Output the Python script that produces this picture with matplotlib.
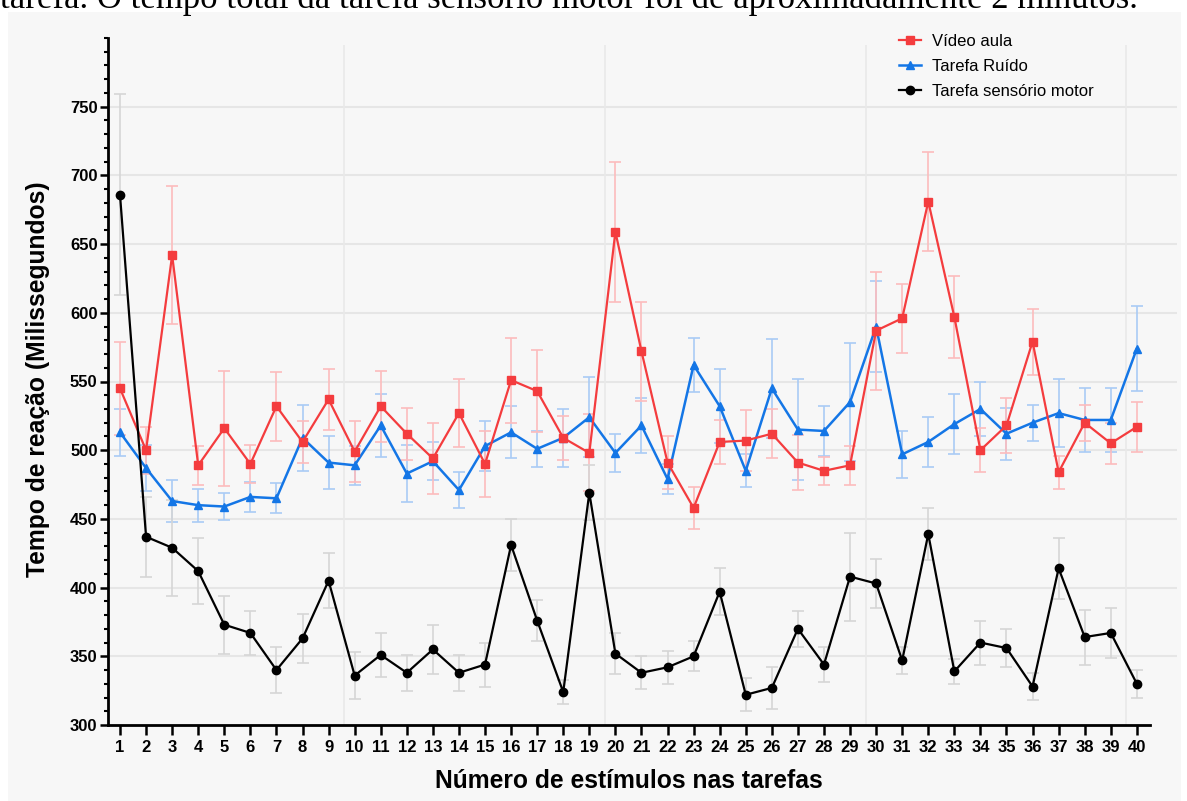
import numpy as np
import matplotlib.pyplot as plt
from matplotlib.patches import Rectangle
from matplotlib.ticker import MultipleLocator

plt.rcParams['font.family'] = ['Liberation Sans', 'DejaVu Sans']

# Tempo de reação médio (ms) por estímulo, com barras de erro
stimuli = np.arange(1, 41)

video = [545, 500, 642, 489, 516, 490, 532, 506, 537, 499, 532, 512, 494, 527, 490, 551, 543, 509, 498, 659,
         572, 491, 458, 506, 507, 512, 491, 485, 489, 587, 596, 681, 597, 500, 518, 579, 484, 520, 505, 517]
video_err = [34, 17, 50, 14, 42, 14, 25, 15, 22, 22, 26, 19, 26, 25, 24, 31, 30, 16, 28, 51,
             36, 19, 15, 16, 22, 18, 20, 10, 14, 43, 25, 36, 30, 16, 20, 24, 12, 13, 15, 18]

ruido = [513, 487, 463, 460, 459, 466, 465, 509, 491, 489, 518, 483, 492, 471, 503, 513, 501, 509, 524, 498,
         518, 479, 562, 532, 485, 545, 515, 514, 535, 590, 497, 506, 519, 530, 512, 520, 527, 522, 522, 574]
ruido_err = [17, 17, 15, 12, 10, 11, 11, 24, 19, 14, 23, 21, 14, 13, 18, 19, 13, 21, 29, 14,
             20, 11, 20, 27, 12, 36, 37, 18, 43, 33, 17, 18, 22, 20, 19, 13, 25, 23, 23, 31]

motor = [686, 437, 429, 412, 373, 367, 340, 363, 405, 336, 351, 338, 355, 338, 344, 431, 376, 324, 469, 352,
         338, 342, 350, 397, 322, 327, 370, 344, 408, 403, 347, 439, 339, 360, 356, 328, 414, 364, 367, 330]
motor_err = [73, 29, 35, 24, 21, 16, 17, 18, 20, 17, 16, 13, 18, 13, 16, 19, 15, 9, 20, 15,
             12, 12, 11, 17, 12, 15, 13, 13, 32, 18, 10, 19, 9, 16, 14, 10, 22, 20, 18, 10]

caption = "tarefa. O tempo total da tarefa sensório motor foi de aproximadamente 2 minutos."

red = '#f43c3e'
blue = '#1476e6'
black = '#000000'

fig = plt.figure(figsize=(11.87, 8.01), dpi=100)
fig.patches.append(Rectangle((8 / 1187, 0), 1173 / 1187, 789 / 801, transform=fig.transFigure,
                             facecolor='#f7f7f7', edgecolor='none', zorder=-10))
# linha de texto do documento, cortada no topo como na imagem original
fig.text(0.0, 1 - 8 / 801, caption, family=['Liberation Serif', 'DejaVu Serif'], fontsize=25,
         ha='left', va='baseline')

ax = fig.add_axes([108 / 1187, 76 / 801, 1069 / 1187, 687 / 801])
ax.set_facecolor('none')
ax.set_xlim(0.54, 41.54)
ax.set_ylim(300, 800)

# grade clara
for y in range(350, 800, 50):
    ax.axhline(y, color='#e6e6e6', lw=1.5, zorder=0)
for x in [9.6, 19.6, 29.6, 39.6]:
    ax.vlines(x, 300, 795, color='#e9e9e9', lw=1.2, zorder=0)

# barras de erro
ax.errorbar(stimuli, ruido, yerr=ruido_err, fmt='none', ecolor='#a9cbf5', elinewidth=1.2,
            capsize=4.5, capthick=1.2, zorder=2)
ax.errorbar(stimuli, video, yerr=video_err, fmt='none', ecolor='#fcbcbd', elinewidth=1.2,
            capsize=4.5, capthick=1.2, zorder=2)
ax.errorbar(stimuli, motor, yerr=motor_err, fmt='none', ecolor='#d6d6d6', elinewidth=1.2,
            capsize=4.5, capthick=1.2, zorder=2)

# linhas
l_video, = ax.plot(stimuli, video, color=red, marker='s', ms=6, lw=1.6, label='Vídeo aula', zorder=4)
l_ruido, = ax.plot(stimuli, ruido, color=blue, marker='^', ms=6, lw=1.8, label='Tarefa Ruído', zorder=3)
l_motor, = ax.plot(stimuli, motor, color=black, marker='o', ms=6, lw=1.6, label='Tarefa sensório motor', zorder=5)

for side in ['top', 'right']:
    ax.spines[side].set_visible(False)
ax.spines['left'].set_linewidth(2)
ax.spines['bottom'].set_linewidth(2)
ax.spines['bottom'].set_bounds(0.54, 40.5)

ax.set_xticks(stimuli)
ax.set_yticks(range(300, 751, 50))
ax.yaxis.set_minor_locator(MultipleLocator(10))
ax.tick_params(axis='x', length=7, width=1.8, pad=4, labelsize=12)
ax.tick_params(axis='y', which='major', length=6, width=1.8, pad=1.5, labelsize=12)
ax.tick_params(axis='y', which='minor', length=3, width=1.5)
for lbl in ax.get_xticklabels() + ax.get_yticklabels():
    lbl.set_fontweight('bold')

fig.text(45 / 1187, 1 - 379 / 801, 'Tempo de reação (Milissegundos)', fontsize=17.7, fontweight='bold',
         rotation=90, ha='center', va='baseline', rotation_mode='anchor')
fig.text(629 / 1187, 1 - 788 / 801, 'Número de estímulos nas tarefas', fontsize=17.7, fontweight='bold',
         ha='center', va='baseline')

ax.legend(handles=[l_video, l_ruido, l_motor], loc='upper left',
          bbox_to_anchor=(899 / 1187, 1 - 34 / 801), bbox_transform=fig.transFigure,
          frameon=False, fontsize=12, handlelength=1.3, handletextpad=0.65,
          labelspacing=0.6, borderpad=0, borderaxespad=0)

fig.savefig('out.png', dpi=100)
